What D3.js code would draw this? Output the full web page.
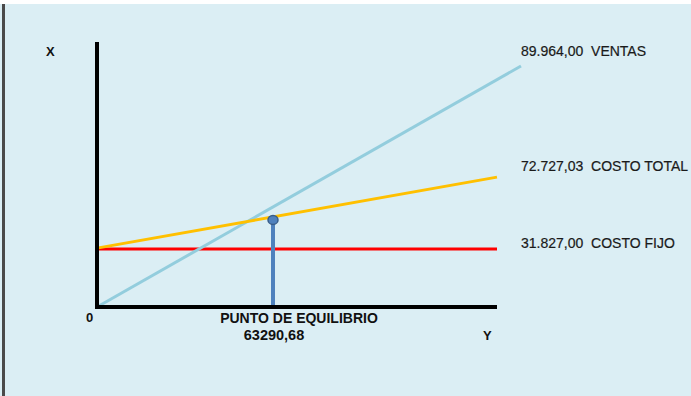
<!DOCTYPE html>
<html>
<head>
<meta charset="utf-8">
<script src="https://cdn.jsdelivr.net/npm/d3@7"></script>
<style>
  body { margin: 0; background: #fff; }
  svg { display: block; }
</style>
</head>
<body>
<div id="chart"></div>
<script>
// schematic break-even chart, values in plot units (0-100 on both axes)
var seriesNames  = ["VENTAS", "COSTO TOTAL", "COSTO FIJO"];
var seriesLabels = ["89.964,00", "72.727,03", "31.827,00"];
var seriesColors = ["#93cddd", "#ffc000", "#ff0000"];
var ventas      = [{x: 0, y: 0},    {x: 106, y: 91.3}];
var costoTotal  = [{x: 0, y: 22.3}, {x: 100, y: 49.2}];
var costoFijo   = [{x: 0, y: 22},   {x: 100, y: 22}];
var equilibrio  = {x: 44, y: 33.0};
var equilibrioLabel = "63290,68";

var width = 691, height = 396;
var margin = {left: 97, top: 43};
var plotwidth = 400, plotheight = 264;

var svg = d3.select("#chart")
            .append("svg")
            .attr("width", width)
            .attr("height", height);

svg.append("rect").attr("x", 0).attr("y", 0).attr("width", width).attr("height", height).attr("fill", "#fff");
svg.append("rect").attr("x", 0).attr("y", 4).attr("width", width).attr("height", height - 4).attr("fill", "#dbeef4");
svg.append("rect").attr("x", 2).attr("y", 4).attr("width", 3).attr("height", height - 4).attr("fill", "#4a4a4a");

var x = d3.scaleLinear().domain([0, 100]).range([margin.left, margin.left + plotwidth]),
    y = d3.scaleLinear().domain([0, 100]).range([margin.top + plotheight, margin.top]);

var line = d3.line()
             .x(function(d) { return x(d.x); })
             .y(function(d) { return y(d.y); });

var series = [ventas, costoTotal, costoFijo];
// draw red first, then ventas, then costo total on top
[2, 0, 1].forEach(function(i) {
    svg.append("path")
       .datum(series[i])
       .attr("fill", "none")
       .attr("stroke", seriesColors[i])
       .attr("stroke-width", 3)
       .attr("d", line);
});

// axes (plain lines, no ticks)
svg.append("line")
   .attr("x1", x(0)).attr("x2", x(0))
   .attr("y1", y(100) - 1).attr("y2", y(0) + 2)
   .attr("stroke", "#000").attr("stroke-width", 4);
svg.append("line")
   .attr("x1", x(0) - 2).attr("x2", x(100))
   .attr("y1", y(0)).attr("y2", y(0))
   .attr("stroke", "#000").attr("stroke-width", 4);

// break-even marker
svg.append("line")
   .attr("x1", x(equilibrio.x)).attr("x2", x(equilibrio.x))
   .attr("y1", y(equilibrio.y)).attr("y2", y(0) - 2)
   .attr("stroke", "#4f81bd").attr("stroke-width", 4);
svg.append("ellipse")
   .attr("cx", x(equilibrio.x)).attr("cy", y(equilibrio.y))
   .attr("rx", 5).attr("ry", 4.5)
   .attr("fill", "#4f81bd").attr("stroke", "#385d8a").attr("stroke-width", 1.5);

// series labels at the right
var labelY = [56, 171, 248];
seriesNames.forEach(function(n, i) {
    svg.append("text")
       .attr("x", 521)
       .attr("y", labelY[i])
       .attr("font-family", "Liberation Sans, Arial, sans-serif")
       .attr("font-size", "14px")
       .attr("fill", "#1a1a1a")
       .attr("stroke", "#1a1a1a")
       .attr("stroke-width", 0.2)
       .attr("xml:space", "preserve")
       .text(seriesLabels[i] + "  " + n);
});

var bold = {"font-family": "Liberation Sans, Arial, sans-serif", "font-weight": "bold", "fill": "#111"};
function label(txt, xp, yp, size, anchor) {
    var t = svg.append("text")
               .attr("x", xp).attr("y", yp)
               .attr("font-size", size)
               .attr("text-anchor", anchor || "start")
               .text(txt);
    Object.keys(bold).forEach(function(k) { t.attr(k, bold[k]); });
    return t;
}
label("X", 46, 56, "13px");
label("0", 86, 322, "13px");
label("Y", 483, 340, "13px");
label("PUNTO DE EQUILIBRIO", 299, 323, "14px", "middle");
label(equilibrioLabel, 274, 340, "14.5px", "middle");
</script>
</body>
</html>
